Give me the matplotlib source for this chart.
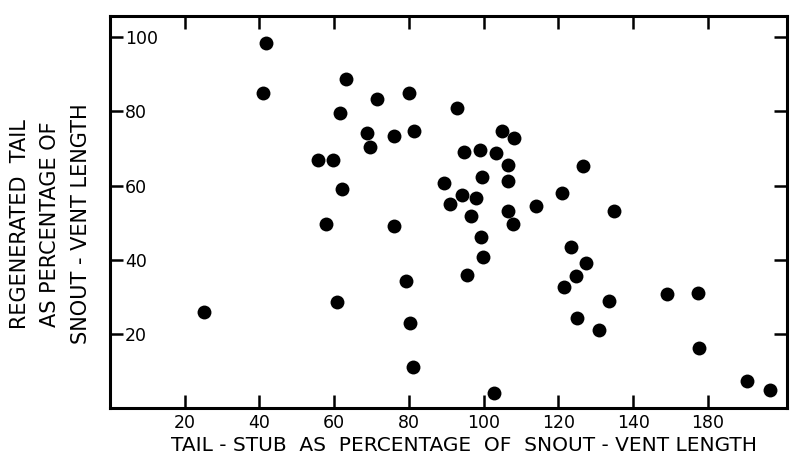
import matplotlib
matplotlib.use("Agg")
import matplotlib.pyplot as plt

# tail-stub (% of snout-vent length) vs regenerated tail (% of snout-vent length)
stub_pct = [
    25.1, 41.9, 41.1, 63.3, 61.7, 55.8, 59.8, 62.2, 57.9, 60.9,
    71.6, 79.9, 92.9, 68.9, 69.7, 76.1, 81.5, 105.0, 108.2, 94.8,
    99.1, 103.4, 106.6, 99.6, 106.6, 89.5, 94.3, 98.0, 91.1, 96.7,
    106.6, 107.9, 76.1, 99.4, 99.9, 95.6, 79.3, 80.4, 81.2, 102.8,
    126.6, 121.0, 114.1, 134.9, 123.4, 127.4, 124.7, 121.5, 133.6, 125.0,
    130.9, 149.0, 157.3, 157.6, 170.4, 176.6,
]
regen_pct = [
    25.9, 98.4, 84.9, 88.7, 79.5, 66.9, 66.9, 59.1, 49.6, 28.6,
    83.3, 84.9, 80.9, 74.1, 70.4, 73.3, 74.7, 74.7, 72.8, 69.0,
    69.6, 68.8, 65.5, 62.3, 61.2, 60.7, 57.5, 56.6, 55.0, 51.8,
    53.1, 49.6, 49.1, 46.1, 40.7, 35.9, 34.3, 23.0, 11.1, 4.1,
    65.3, 58.0, 54.5, 53.1, 43.4, 39.1, 35.6, 32.7, 28.9, 24.3,
    21.1, 30.8, 31.1, 16.2, 7.3, 4.9,
]

# the original figure labels its 160 tick as "180"
x_ticks = [20, 40, 60, 80, 100, 120, 140, 160]
x_tick_labels = ["20", "40", "60", "80", "100", "120", "140", "180"]
y_ticks = [20, 40, 60, 80, 100]
y_tick_labels = ["20", "40", "60", "80", "100"]

plt.rcParams["font.family"] = ["DejaVu Sans"]

fig = plt.figure(figsize=(7.9, 4.57), dpi=100)
ax = fig.add_axes([0.139, 0.107, 0.857, 0.858])

ax.plot(stub_pct, regen_pct, "o", color="black", markersize=10, markeredgewidth=0)

ax.set_xlim(0, 181.1)
ax.set_ylim(0, 105.7)

for spine in ax.spines.values():
    spine.set_linewidth(2.2)

ax.set_xticks(x_ticks)
ax.set_xticklabels(x_tick_labels)
ax.set_yticks(y_ticks)
ax.set_yticklabels(y_tick_labels)

ax.tick_params(axis="both", direction="in", length=9.5, width=1.8,
               top=True, right=True, labelsize=12.5)
ax.tick_params(axis="x", pad=4)
# y labels sit inside the frame, right of the tick marks
ax.tick_params(axis="y", pad=-11)
for lab in ax.get_yticklabels():
    lab.set_horizontalalignment("left")

ax.set_xlabel("TAIL - STUB  AS  PERCENTAGE  OF  SNOUT - VENT LENGTH",
              fontsize=14.5)
ax.xaxis.set_label_coords(0.523, -0.07)

ax.set_ylabel("REGENERATED  TAIL\nAS PERCENTAGE OF\nSNOUT - VENT LENGTH",
              fontsize=15, linespacing=1.65, va="center")
ax.yaxis.set_label_coords(-0.088, 0.47)

fig.savefig("out.png", dpi=100)
